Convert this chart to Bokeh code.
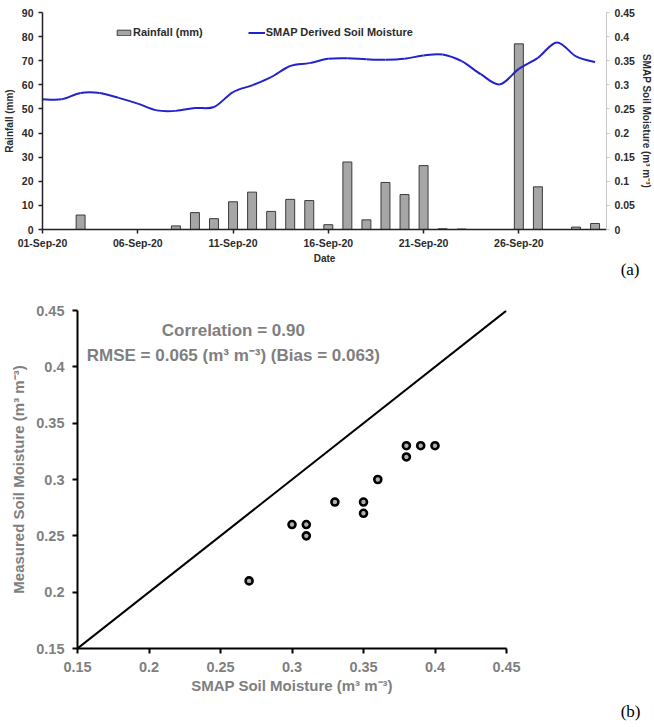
import math
from bokeh.plotting import figure
from bokeh.models import (ColumnDataSource, LinearAxis, Range1d, FixedTicker,
                          NumeralTickFormatter, Legend, LegendItem, Label, Slope, Title)
from bokeh.embed import file_html
from bokeh.resources import INLINE

# ---------------- data: panel (a) ----------------
days = list(range(1, 31))
rainfall_mm = [0, 0, 6, 0, 0, 0, 0, 1.5, 7, 4.5, 11.5, 15.5, 7.5, 12.5, 12, 2, 28, 4,
               19.5, 14.5, 26.5, 0.3, 0.2, 0, 0, 77, 17.7, 0, 1, 2.5]
smap_sm = [0.270, 0.270, 0.283, 0.283, 0.273, 0.261, 0.247, 0.246, 0.252, 0.254,
           0.285, 0.299, 0.316, 0.339, 0.345, 0.354, 0.355, 0.353, 0.352, 0.354,
           0.361, 0.363, 0.349, 0.322, 0.301, 0.333, 0.356, 0.388, 0.359, 0.347]
date_ticks = [1, 6, 11, 16, 21, 26]
date_labels = ["01-Sep-20", "06-Sep-20", "11-Sep-20", "16-Sep-20", "21-Sep-20", "26-Sep-20"]
rain_ticks = [0, 10, 20, 30, 40, 50, 60, 70, 80, 90]
sm_ticks = [0, 0.05, 0.1, 0.15, 0.2, 0.25, 0.3, 0.35, 0.4, 0.45]

# ---------------- data: panel (b) ----------------
smap_scatter = [0.27, 0.30, 0.31, 0.31, 0.33, 0.35, 0.35, 0.36, 0.38, 0.38, 0.39, 0.40]
measured_sm = [0.21, 0.26, 0.26, 0.25, 0.28, 0.28, 0.27, 0.30, 0.33, 0.32, 0.33, 0.33]
scatter_ticks = [0.15, 0.2, 0.25, 0.3, 0.35, 0.4, 0.45]
stats_line1 = "Correlation = 0.90"
stats_line2 = "RMSE = 0.065 (m\u00b3 m\u207b\u00b3) (Bias = 0.063)"

FONT = "Liberation Sans"
DARK = "#2b2b2b"
GRAY = "#7f7f7f"

# ================= panel (a) =================
p1 = figure(width=654, height=284, x_range=Range1d(1, 30.6), y_range=Range1d(0, 90),
            output_backend="svg", toolbar_location=None,
            min_border_left=42, min_border_right=44, min_border_top=12, min_border_bottom=55)
p1.extra_y_ranges = {"sm": Range1d(0, 0.45)}
p1.outline_line_color = None
p1.grid.visible = False

src = ColumnDataSource(dict(day=days, rain=rainfall_mm, sm=smap_sm))
bars = p1.vbar(x="day", top="rain", width=0.47, source=src,
               fill_color="#a6a6a6", line_color="#3c3c3c", line_width=1)

# smoothed line (Catmull-Rom -> cubic Bezier from the daily values)
n = len(days)
bx0, by0, bx1, by1, cx0, cy0, cx1, cy1 = [], [], [], [], [], [], [], []
for i in range(n - 1):
    i0 = max(i - 1, 0)
    i3 = min(i + 2, n - 1)
    bx0.append(days[i]); by0.append(smap_sm[i])
    bx1.append(days[i + 1]); by1.append(smap_sm[i + 1])
    cx0.append(days[i] + (days[i + 1] - days[i0]) / 6)
    cy0.append(smap_sm[i] + (smap_sm[i + 1] - smap_sm[i0]) / 6)
    cx1.append(days[i + 1] - (days[i3] - days[i]) / 6)
    cy1.append(smap_sm[i + 1] - (smap_sm[i3] - smap_sm[i]) / 6)
p1.bezier(x0=bx0, y0=by0, x1=bx1, y1=by1, cx0=cx0, cy0=cy0, cx1=cx1, cy1=cy1,
          line_color="#2222cc", line_width=2, y_range_name="sm")
legend_line = p1.line(x="day", y="sm", source=src, line_color="#2222cc", line_width=2,
                      y_range_name="sm", visible=False)

legend = Legend(items=[LegendItem(label="Rainfall (mm)", renderers=[bars]),
                       LegendItem(label="SMAP Derived Soil Moisture", renderers=[legend_line])],
                orientation="horizontal", location=(73, 191),
                border_line_color=None, background_fill_alpha=0,
                padding=0, margin=0, spacing=45, glyph_width=17, glyph_height=7,
                label_height=12, label_standoff=1,
                label_text_font=FONT, label_text_font_style="bold",
                label_text_font_size="11px", label_text_color=DARK)
p1.add_layout(legend, "center")

for ax in [p1.xaxis[0], p1.yaxis[0]]:
    ax.major_label_text_font = FONT
    ax.major_label_text_font_style = "bold"
    ax.major_label_text_font_size = "10.5px"
    ax.major_label_text_color = DARK
    ax.axis_label_text_font = FONT
    ax.axis_label_text_font_style = "bold"
    ax.axis_label_text_font_size = "10px"
    ax.axis_label_text_color = DARK
    ax.axis_line_color = "#222222"
    ax.axis_line_width = 1.5
    ax.major_tick_line_color = "#222222"
    ax.major_tick_line_width = 1.5
    ax.major_tick_in = 0
    ax.major_tick_out = 4
    ax.minor_tick_line_color = None

p1.xaxis[0].ticker = FixedTicker(ticks=date_ticks)
p1.xaxis[0].major_label_overrides = dict(zip(date_ticks, date_labels))
p1.xaxis[0].axis_label = "Date"
p1.xaxis[0].major_label_standoff = 3
p1.xaxis[0].axis_label_standoff = 1
p1.yaxis[0].ticker = FixedTicker(ticks=rain_ticks)
p1.yaxis[0].axis_label = "Rainfall (mm)"
p1.yaxis[0].major_label_standoff = 5
p1.yaxis[0].axis_label_standoff = 4

right = LinearAxis(y_range_name="sm", ticker=FixedTicker(ticks=sm_ticks),
                   formatter=NumeralTickFormatter(format="0.[00]"),
                   axis_label="SMAP Soil Moisture (m\u00b3 m\u207b\u00b3)")
right.major_label_text_font = FONT
right.major_label_text_font_style = "bold"
right.major_label_text_font_size = "10.5px"
right.major_label_text_color = DARK
right.axis_label_text_font = FONT
right.axis_label_text_font_style = "bold"
right.axis_label_text_font_size = "10px"
right.axis_label_text_color = DARK
right.axis_label_standoff = 3
right.major_label_standoff = 5
right.axis_line_color = "#c8c8c8"
right.major_tick_line_color = "#c8c8c8"
right.major_tick_in = 0
right.major_tick_out = 3
right.minor_tick_line_color = None
p1.add_layout(right, "right")

p1.add_layout(Title(text="(a)", align="right", offset=-33, vertical_align="middle",
                    standoff=-16, text_font="Liberation Serif", text_font_size="17px",
                    text_font_style="normal", text_color="black"), "below")

# ================= panel (b) =================
p2 = figure(width=654, height=443, x_range=Range1d(0.15, 0.45), y_range=Range1d(0.15, 0.45),
            output_backend="svg", toolbar_location=None,
            min_border_left=77, min_border_right=148, min_border_top=26, min_border_bottom=79)
p2.outline_line_color = None
p2.grid.visible = False

p2.add_layout(Slope(gradient=1, y_intercept=0, line_color="black", line_width=2))
p2.scatter(x=smap_scatter, y=measured_sm, size=7, fill_color="#b0b0b0",
           line_color="black", line_width=2.6)

for ax in [p2.xaxis[0], p2.yaxis[0]]:
    ax.ticker = FixedTicker(ticks=scatter_ticks)
    ax.formatter = NumeralTickFormatter(format="0.[00]")
    ax.major_label_text_font = FONT
    ax.major_label_text_font_style = "bold"
    ax.major_label_text_font_size = "14.5px"
    ax.major_label_text_color = GRAY
    ax.axis_label_text_font = FONT
    ax.axis_label_text_font_style = "bold"
    ax.axis_label_text_font_size = "15px"
    ax.axis_label_text_color = GRAY
    ax.axis_line_color = "black"
    ax.axis_line_width = 2
    ax.major_tick_line_color = "black"
    ax.major_tick_line_width = 2
    ax.major_tick_in = 0
    ax.major_tick_out = 5
    ax.minor_tick_line_color = None
p2.xaxis[0].axis_label = "SMAP Soil Moisture (m\u00b3 m\u207b\u00b3)"
p2.yaxis[0].axis_label = "Measured Soil Moisture (m\u00b3 m\u207b\u00b3)"
p2.xaxis[0].major_label_standoff = 8
p2.yaxis[0].major_label_standoff = 8
p2.xaxis[0].axis_label_standoff = 2
p2.yaxis[0].axis_label_standoff = 6

for txt, yy in [(stats_line1, 0.432), (stats_line2, 0.410)]:
    p2.add_layout(Label(x=0.259, y=yy, text=txt, text_font=FONT, text_font_style="bold",
                        text_font_size="17px", text_color=GRAY,
                        text_align="center", text_baseline="middle"))

p2.add_layout(Title(text="(b)", align="right", offset=-134, vertical_align="middle",
                    standoff=8, text_font="Liberation Serif", text_font_size="17px",
                    text_font_style="normal", text_color="black"), "below")

open("out.html", "w").write(file_html([p1, p2], INLINE))
